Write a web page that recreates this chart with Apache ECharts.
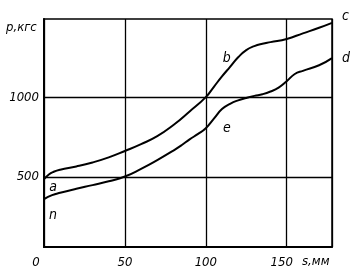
<!DOCTYPE html>
<html><head><meta charset="utf-8">
<script src="https://cdn.jsdelivr.net/npm/echarts@6/dist/echarts.min.js"></script>
<style>html,body{margin:0;padding:0;background:#fff}#c{width:356px;height:274px}</style>
</head><body><div id="c"></div>
<script>
const sUpper = [0,3,6,10,20,30,40,50,60,70,80,90,100,105,110,115,120,125,130,135,140,150,160,170,178];
const pUpper = [485,515,532,545,565,590,622,662,705,755,825,910,1000,1065,1130,1190,1250,1295,1320,1335,1345,1365,1400,1435,1466];
const sLower = [0,5,10,20,30,40,50,60,70,80,85,90,95,100,105,110,115,120,125,130,135,140,145,150,155,160,170,178];
const pLower = [360,385,400,425,448,472,502,550,605,665,698,735,768,805,865,925,958,980,995,1008,1018,1035,1060,1100,1145,1165,1200,1245];
const xTicks = [0,50,100,150];
const yTicks = [500,1000];
const pointNames = {a:[5.6,435], n:[5.6,259], b:[113,1241], e:[113,806]};

const font = {fontFamily:'"Liberation Sans Narrow","DejaVu Sans Condensed",sans-serif', fontStyle:'italic', color:'#000'};
const chart = echarts.init(document.getElementById('c'));
const pairs = (xs, ys) => xs.map((x,i)=>[x, ys[i]]);
const lbl = (name, ox, oy) => ({name, coord: pointNames[name], symbolSize:0,
  label:{show:true, formatter:name, fontSize:14, offset:[ox,oy], ...font}});
chart.setOption({
  animation:false,
  backgroundColor:'#fff',
  grid:{left:44, right:24, top:19, bottom:27, show:true, borderColor:'#000', borderWidth:1.5, backgroundColor:'transparent'},
  xAxis:{type:'value', min:0, max:178, interval:50,
    axisLine:{show:true, onZero:false, lineStyle:{color:'#000', width:2}},
    axisTick:{show:false},
    splitLine:{show:true, lineStyle:{color:'#000', width:1.3}},
    axisLabel:{showMaxLabel:false, fontSize:13, margin:9, ...font,
      formatter: v => v===0 ? '{z|0}' : (v===150 ? '{w|150}' : String(v)),
      rich:{z:{fontSize:13, padding:[0,16,0,0], ...font}, w:{fontSize:13, padding:[0,10,0,0], ...font}}}
  },
  yAxis:{type:'value', min:60, max:1490,
    axisLine:{show:true, onZero:false, lineStyle:{color:'#000', width:2}},
    axisTick:{show:false, customValues:yTicks},
    splitLine:{show:true, lineStyle:{color:'#000', width:1.3}, customValues:yTicks},
    axisLabel:{customValues:yTicks, fontSize:13, margin:5, formatter: v => String(v), ...font}
  },
  graphic:[
    {type:'text', left:6, top:21, style:{text:'p,кгс', fontSize:13, fontFamily:font.fontFamily, fontStyle:'italic', fill:'#000'}},
    {type:'text', left:302, top:255, style:{text:'s,мм', fontSize:13, fontFamily:font.fontFamily, fontStyle:'italic', fill:'#000'}}
  ],
  series:[
    {type:'line', data:pairs(sUpper,pUpper), smooth:true, symbol:'none', lineStyle:{color:'#000', width:2},
     endLabel:{show:true, formatter:'c', fontSize:14, offset:[2,-6], ...font},
     markPoint:{data:[lbl('a',0,0), lbl('b',0,0)]}},
    {type:'line', data:pairs(sLower,pLower), smooth:true, symbol:'none', lineStyle:{color:'#000', width:2},
     endLabel:{show:true, formatter:'d', fontSize:14, offset:[2,0], ...font},
     markPoint:{data:[lbl('n',0,0), lbl('e',0,0)]}}
  ]
});
</script></body></html>
